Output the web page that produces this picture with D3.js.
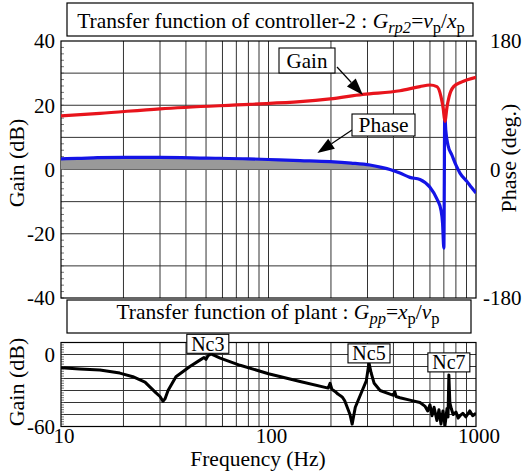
<!DOCTYPE html>
<html>
<head>
<meta charset="utf-8">
<script src="https://cdn.jsdelivr.net/npm/d3@7"></script>
<style>
body { margin: 0; background: #fff; }
</style>
</head>
<body>
<svg id="chart" width="525" height="476"></svg>
<script>
// controller-2 gain (dB) and phase (deg)
const gainFreq = [10, 15.4, 30, 81, 142, 198, 285, 430, 537, 600, 648, 678, 695, 708, 725, 742, 780, 850, 1000];
const gainDb   = [16.7, 17.5, 18.9, 20.3, 21.1, 22, 23.4, 24.5, 25.8, 26.3, 25.8, 22.7, 19, 15, 19.5, 22.7, 25.8, 27.2, 28.7];

const phaseFreq = [10, 12, 15, 20, 30, 50, 80, 100, 142, 198, 250, 308, 350, 385, 430, 480, 537, 600, 648, 678, 690, 700, 707, 715, 733, 766, 801, 837, 906, 950, 1000];
const phaseDeg  = [15, 15.5, 16.5, 17, 17, 16, 15, 14, 12.5, 11, 9, 6.3, 3, 0, -5, -11, -14, -25, -41, -57, -75, -110, 78, 55, 34, 20, 6, -5, -17, -25, -33];

// plant gain (dB)
const plantFreq = [10, 12.3, 15.4, 19.2, 22.2, 25.4, 26.8, 28.7, 30, 31, 31.7, 32.8, 35.8, 41.8, 46.7, 48.9, 50, 51.1, 52.8, 58.5, 73, 100, 142, 194, 198, 202, 210, 216, 223, 228, 233, 247, 253, 262, 283, 296, 305, 312, 323, 345, 385, 400, 406, 412, 430, 480, 537, 567, 585, 600, 614, 628, 648, 663, 678, 693, 709, 725, 733, 740, 748, 760, 776, 801, 820, 838, 864, 893, 934, 964, 1000];
const plantDb   = [-11, -12, -13, -15.5, -18.5, -23, -27, -32, -35, -39, -37, -30, -18.5, -10, -4.7, -2.5, -4, -1, 0.5, -3, -9, -16, -22.5, -28, -24, -29, -31, -33, -34.5, -36, -38.5, -50, -58, -44, -30, -22, -7, -15, -24, -30, -33, -34, -31, -35, -36, -38, -40, -43, -47, -42, -51, -44, -55, -46, -58, -47, -59, -45, -52, -17, -40, -45, -50, -48, -53, -51, -49, -52, -47, -51, -49];

const freqTicks  = [10, 100, 1000];
const gainTicks  = [-40, -20, 0, 20, 40];
const phaseTicks = [-180, 0, 180];
const plantTicks = [-60, 0];

const peakLabels = ["Nc3", "Nc5", "Nc7"];
const peakFreq   = [51, 305, 740];
const peakDb     = [1, -7, -14.5];

const FONT = "'Liberation Serif', 'Times New Roman', Times, serif";

const svg = d3.select("#chart");
const left = 61, right = 476;

const x = d3.scaleLog().domain([10, 1000]).range([left, right]);
const yGain  = d3.scaleLinear().domain([-40, 40]).range([298, 41]);
const yPhase = d3.scaleLinear().domain([-180, 180]).range([298, 41]);
const yPlant = d3.scaleLinear().domain([-60, 10]).range([426.5, 342.5]);

const gridFreqs = [];
[10, 100].forEach(d => { for (let k = 1; k < 10; k++) gridFreqs.push(d * k); });

function label(parent, s, tx, ty, size, anchor, rot)
{
    return parent.append("text")
        .attr("font-family", FONT)
        .attr("font-size", size)
        .attr("fill", "#000")
        .attr("text-anchor", anchor)
        .attr("transform", `translate(${tx},${ty})` + (rot ? ` rotate(${rot})` : ""))
        .text(s);
}

function drawPanel(y, step, clipId)
{
    const [lo, hi] = y.domain();
    const g = svg.append("g");

    g.append("clipPath").attr("id", clipId)
        .append("rect")
        .attr("x", left).attr("y", y(hi))
        .attr("width", right - left).attr("height", y(lo) - y(hi));

    g.selectAll(".vgrid").data(gridFreqs.slice(1))
        .enter().append("line")
        .attr("x1", d => x(d)).attr("x2", d => x(d))
        .attr("y1", y(hi)).attr("y2", y(lo))
        .attr("stroke", "#333").attr("stroke-width", 1);

    g.selectAll(".hgrid").data(d3.range(lo + step, hi, step))
        .enter().append("line")
        .attr("x1", left).attr("x2", right)
        .attr("y1", d => y(d)).attr("y2", d => y(d))
        .attr("stroke", "#333").attr("stroke-width", 1);

    // little minor ticks on the left edge
    g.selectAll(".minor").data(d3.range(lo, hi, 2))
        .enter().append("line")
        .attr("x1", left).attr("x2", left + 3)
        .attr("y1", d => y(d)).attr("y2", d => y(d))
        .attr("stroke", "#555").attr("stroke-width", 0.8);

    g.append("rect")
        .attr("x", left).attr("y", y(hi))
        .attr("width", right - left).attr("height", y(lo) - y(hi))
        .attr("fill", "none").attr("stroke", "#000").attr("stroke-width", 1.2);
    return g;
}

function tickLabels(ticks, y, xpos, anchor, hang)
{
    const g = svg.append("g");
    ticks.forEach(d => {
        label(g, d, xpos + (hang && d < 0 ? -7 : 0), y(d) + 7.3, 21, anchor);
    });
}

function richText(el, parts)
{
    let shifted = false;
    parts.forEach(p => {
        const t = el.append("tspan").text(p.t);
        if (p.it) t.attr("font-style", "italic");
        if (p.sub && !shifted) { t.attr("dy", 4.5); shifted = true; }
        if (!p.sub && shifted) { t.attr("dy", -4.5); shifted = false; }
        if (p.sub) t.attr("font-size", 16.5);
    });
}

function titleBox(x0, y0, w, h, parts, tx, ty)
{
    svg.append("rect").attr("x", x0).attr("y", y0).attr("width", w).attr("height", h)
        .attr("fill", "#fff").attr("stroke", "#000").attr("stroke-width", 1.2);
    const t = svg.append("text")
        .attr("font-family", FONT).attr("font-size", 21.5).attr("fill", "#000")
        .attr("x", tx).attr("y", ty).attr("text-anchor", "middle");
    richText(t, parts);
}

function arrow(x0, y0, x1, y1)
{
    const a = Math.atan2(y1 - y0, x1 - x0), L = 17, W = 6;
    const bx = x1 - L * Math.cos(a), by = y1 - L * Math.sin(a);
    svg.append("line").attr("x1", x0).attr("y1", y0).attr("x2", bx).attr("y2", by)
        .attr("stroke", "#000").attr("stroke-width", 1.2);
    const pts = [[x1, y1],
        [bx + W * Math.sin(a), by - W * Math.cos(a)],
        [bx - W * Math.sin(a), by + W * Math.cos(a)]];
    svg.append("polygon").attr("points", pts.map(p => p.join(",")).join(" ")).attr("fill", "#000");
}

function labelBox(s, cx, yTop, w, h, size)
{
    svg.append("rect").attr("x", cx - w / 2).attr("y", yTop).attr("width", w).attr("height", h)
        .attr("fill", "#fff").attr("stroke", "#000").attr("stroke-width", 1.1);
    label(svg, s, cx, yTop + h / 2 + size * 0.34, size, "middle");
}

// ---- top panel: controller
drawPanel(yGain, 10, "clipTop");

const phasePts = phaseFreq.map((f, i) => [f, phaseDeg[i]]);
const gainPts = gainFreq.map((f, i) => [f, gainDb[i]]);
const plantPts = plantFreq.map((f, i) => [f, plantDb[i]]);

const posPhase = phasePts.filter(d => d[0] <= 385);
svg.append("path")
    .attr("d", d3.area().x(d => x(d[0])).y0(yPhase(0)).y1(d => yPhase(Math.max(d[1], 0)))
        .curve(d3.curveMonotoneX)(posPhase))
    .attr("fill", "#999");

svg.append("path")
    .attr("d", d3.line().x(d => x(d[0])).y(d => yPhase(d[1])).curve(d3.curveMonotoneX)(phasePts))
    .attr("fill", "none").attr("stroke", "#1414e6").attr("stroke-width", 3.2)
    .attr("clip-path", "url(#clipTop)");

svg.append("path")
    .attr("d", d3.line().x(d => x(d[0])).y(d => yGain(d[1])).curve(d3.curveMonotoneX)(gainPts))
    .attr("fill", "none").attr("stroke", "#e8141c").attr("stroke-width", 3.2)
    .attr("clip-path", "url(#clipTop)");

tickLabels(gainTicks, yGain, 55, "end", false);
tickLabels(phaseTicks, yPhase, 490, "start", true);

label(svg, "Gain (dB)", 24, 163, 22, "middle", -90);
label(svg, "Phase (deg.)", 516, 158, 22, "middle", -90);

// gain / phase callouts
arrow(337, 67, x(285), yGain(23.2));
labelBox("Gain", 307, 48, 56, 25, 21);
arrow(352, 130, x(172), yPhase(23));
labelBox("Phase", 383.5, 114, 63, 22, 21.5);

titleBox(67, 3, 406, 33, [
    { t: "Transfer function of controller-2 : " },
    { t: "G", it: true }, { t: "rp2", it: true, sub: true },
    { t: "=" }, { t: "v", it: true }, { t: "p", sub: true },
    { t: "/" }, { t: "x", it: true }, { t: "p", sub: true }
], 271, 28);

// ---- bottom panel: plant
titleBox(67, 300, 404, 33, [
    { t: "Transfer function of plant : " },
    { t: "G", it: true }, { t: "pp", it: true, sub: true },
    { t: "=" }, { t: "x", it: true }, { t: "p", sub: true },
    { t: "/" }, { t: "v", it: true }, { t: "p", sub: true }
], 278, 319);

drawPanel(yPlant, 10, "clipBottom");

svg.append("path")
    .attr("d", d3.line().x(d => x(d[0])).y(d => yPlant(d[1]))(plantPts))
    .attr("fill", "none").attr("stroke", "#000").attr("stroke-width", 3)
    .attr("stroke-linejoin", "round")
    .attr("clip-path", "url(#clipBottom)");

peakLabels.forEach((lab, i) => {
    labelBox(lab, x(peakFreq[i]), yPlant(peakDb[i]) - 19, 42, 19, 20);
});

tickLabels(plantTicks, yPlant, 55, "end", false);
label(svg, "Gain (dB)", 24, 382, 22, "middle", -90);

const xl = svg.append("g");
freqTicks.forEach(d => label(xl, d, x(d) + 3, 443, 21, "middle"));

label(svg, "Frequency (Hz)", 258, 466, 21.5, "middle");
</script>
</body>
</html>
